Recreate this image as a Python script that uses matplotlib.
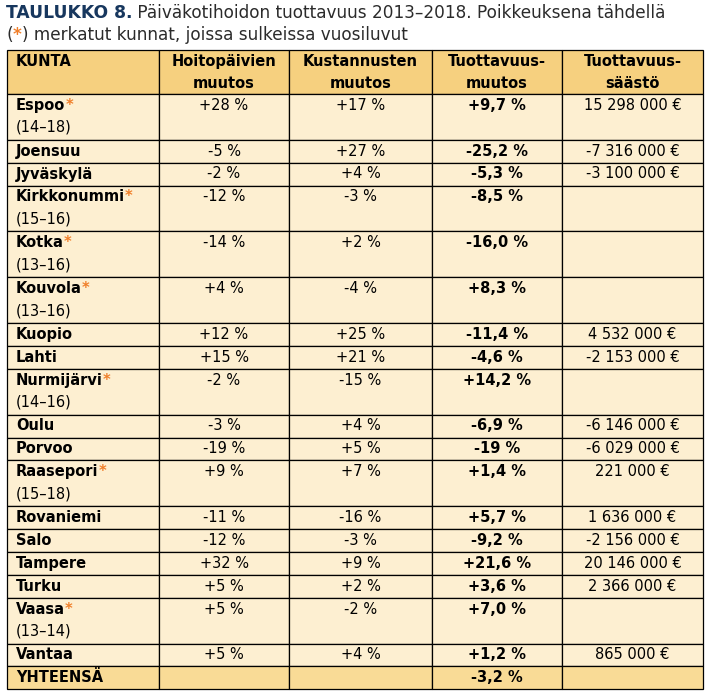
import matplotlib
matplotlib.use("Agg")
import matplotlib.pyplot as plt
from matplotlib.patches import Rectangle

plt.rcParams["font.family"] = ["DejaVu Sans"]

# ---- data -------------------------------------------------------------------
headers = ["KUNTA", "Hoitopäivien\nmuutos", "Kustannusten\nmuutos",
           "Tuottavuus-\nmuutos", "Tuottavuus-\nsäästö"]
kunnat = ["Espoo", "Joensuu", "Jyväskylä", "Kirkkonummi", "Kotka", "Kouvola",
          "Kuopio", "Lahti", "Nurmijärvi", "Oulu", "Porvoo", "Raasepori",
          "Rovaniemi", "Salo", "Tampere", "Turku", "Vaasa", "Vantaa"]
vuodet = ["14–18", "", "", "15–16", "13–16", "13–16", "", "", "14–16", "", "",
          "15–18", "", "", "", "", "13–14", ""]
hoitopaivat = [28, -5, -2, -12, -14, 4, 12, 15, -2, -3, -19, 9, -11, -12, 32, 5, 5, 5]
kustannukset = [17, 27, 4, -3, 2, -4, 25, 21, -15, 4, 5, 7, -16, -3, 9, 2, -2, 4]
tuottavuus = ["+9,7 %", "-25,2 %", "-5,3 %", "-8,5 %", "-16,0 %", "+8,3 %",
              "-11,4 %", "-4,6 %", "+14,2 %", "-6,9 %", "-19 %", "+1,4 %",
              "+5,7 %", "-9,2 %", "+21,6 %", "+3,6 %", "+7,0 %", "+1,2 %"]
saasto = [15298000, -7316000, -3100000, None, None, None, 4532000, -2153000,
          None, -6146000, -6029000, 221000, 1636000, -2156000, 20146000,
          2366000, None, 865000]
yhteensa_label = "YHTEENSÄ"
yhteensa_tuottavuus = "-3,2 %"

# ---- style ------------------------------------------------------------------
HEAD_FILL = "#F6D07F"
BODY_FILL = "#FDEFD1"
TOTAL_FILL = "#F9DB96"
NAVY = "#17375E"
GREY = "#2B2B2B"
STAR = "#F07F2A"
FS = 10.5

W, H = 709, 695
fig = plt.figure(figsize=(W / 100, H / 100), dpi=100)
ax = fig.add_axes([0, 0, 1, 1])
ax.set_xlim(0, W)
ax.set_ylim(H, 0)
ax.axis("off")
renderer = fig.canvas.get_renderer()


def runs(x, y, parts):
    """Draw text pieces one after another on a common baseline."""
    for txt, kw in parts:
        t = ax.text(x, y, txt, ha="left", va="baseline", zorder=3, **kw)
        x += t.get_window_extent(renderer).width


def fmt_pct(v):
    return f"{v:+d} %"


def fmt_eur(v):
    if v is None:
        return ""
    return f"{v:,}".replace(",", " ") + " €"


# ---- title --------------------------------------------------------------------
runs(6, 18, [("TAULUKKO 8.", dict(fontsize=12.3, fontweight="bold", color=NAVY)),
             (" Päiväkotihoidon tuottavuus 2013–2018. Poikkeuksena tähdellä",
              dict(fontsize=12.2, color=GREY))])
runs(6, 40, [("(", dict(fontsize=12.2, color=GREY)),
             ("*", dict(fontsize=12.2, fontweight="bold", color=STAR)),
             (") merkatut kunnat, joissa sulkeissa vuosiluvut", dict(fontsize=12.2, color=GREY))])

# ---- table geometry ---------------------------------------------------------
col_x = [7, 159, 289, 432, 562, 703]
top = 50
head_h = 44
line_h = 22.9


def cell_row(y0, h, fill, cells, bold_cols):
    for c in range(5):
        ax.add_patch(Rectangle((col_x[c], y0), col_x[c + 1] - col_x[c], h,
                               facecolor=fill, edgecolor="black", lw=0.9, zorder=1))
    for c, txt in enumerate(cells):
        if not txt:
            continue
        for i, ln in enumerate(txt.split("\n")):
            yb = y0 + 15.8 + i * 22
            w = "bold" if c in bold_cols else "normal"
            if c == 0:
                ax.text(16, yb, ln, ha="left", va="baseline", fontsize=FS,
                        fontweight=w, color="black", zorder=3)
            else:
                ax.text((col_x[c] + col_x[c + 1]) / 2, yb, ln, ha="center",
                        va="baseline", fontsize=FS, fontweight=w, color="black", zorder=3)


# header
cell_row(top, head_h, HEAD_FILL, headers, {0, 1, 2, 3, 4})

y = top + head_h
for i, name in enumerate(kunnat):
    h = (2 if vuodet[i] else 1) * line_h
    cells = ["", fmt_pct(hoitopaivat[i]), fmt_pct(kustannukset[i]),
             tuottavuus[i], fmt_eur(saasto[i])]
    cell_row(y, h, BODY_FILL, cells, {3})
    parts = [(name, dict(fontsize=FS, fontweight="bold", color="black"))]
    if vuodet[i]:
        parts.append(("*", dict(fontsize=FS, fontweight="bold", color=STAR)))
        ax.text(16, y + 37.8, "(" + vuodet[i] + ")", ha="left", va="baseline",
                fontsize=FS, color="black", zorder=3)
    runs(16, y + 15.8, parts)
    y += h

# total row
cell_row(y, line_h, TOTAL_FILL, [yhteensa_label, "", "", yhteensa_tuottavuus, ""], {0, 3})

fig.savefig("out.png", dpi=100, facecolor="white")
